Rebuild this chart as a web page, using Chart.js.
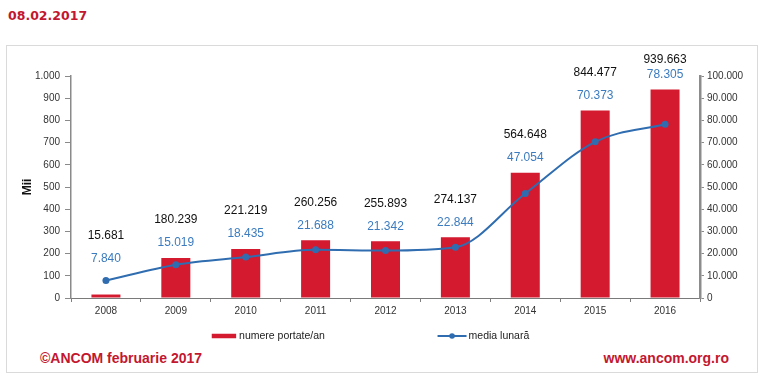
<!DOCTYPE html>
<html><head><meta charset="utf-8">
<script src="https://cdn.jsdelivr.net/npm/chart.js@4.4.1/dist/chart.umd.min.js"></script>
<style>
html,body{margin:0;padding:0;background:#fff;width:765px;height:382px;overflow:hidden;}
#frame{position:absolute;left:6px;top:45px;width:752px;height:328px;border:1px solid #dadada;box-sizing:border-box;}
#date{position:absolute;left:8px;top:8px;font:bold 12.5px/15px 'DejaVu Sans',Verdana,sans-serif;color:#c3172f;}
.foot{position:absolute;top:350px;font:bold 14px/16px 'Liberation Sans',Arial,sans-serif;color:#c3172f;white-space:nowrap;}
#wrap{position:absolute;left:0;top:0;width:765px;height:382px;}
</style></head>
<body>
<div id="frame"></div>
<div id="date">08.02.2017</div>
<div class="foot" style="left:40px">©ANCOM februarie 2017</div>
<div class="foot" style="right:36px">www.ancom.org.ro</div>
<div id="wrap"><canvas id="c"></canvas></div>
<script>
const years = ['2008','2009','2010','2011','2012','2013','2014','2015','2016'];
const portate = [15681, 180239, 221219, 260256, 255893, 274137, 564648, 844477, 939663];
const mediaLunara = [7840, 15019, 18435, 21688, 21342, 22844, 47054, 70373, 78305];
const seriesNames = ['numere portate/an', 'media lunară'];
const axisTitle = 'Mii';

const RED = '#d31a2f', BLUE = '#2f6db0', BLUE_TXT = '#3b7bbf';
const FONT = "'Liberation Sans', Arial, sans-serif";
Chart.defaults.font.family = FONT;

function fmt(n){ return String(Math.round(n)).replace(/\B(?=(\d{3})+(?!\d))/g, '.'); }

const labelPlugin = {
  id: 'valueLabels',
  afterDatasetsDraw(chart){
    const ctx = chart.ctx;
    const barMeta = chart.getDatasetMeta(1), lineMeta = chart.getDatasetMeta(0);
    const top = chart.chartArea.top;
    ctx.save();
    ctx.font = '13px ' + FONT;
    ctx.textAlign = 'center';
    ctx.textBaseline = 'middle';
    for (let i = 0; i < years.length; i++) {
      const bar = barMeta.data[i], pt = lineMeta.data[i];
      const by = Math.min(bar.y - 15, pt.y - 22);
      const ky = Math.max(by - 23, top - 16.5);
      const put = (txt, x, y, col) => {
        ctx.save(); ctx.translate(x, y); ctx.scale(0.92, 1);
        ctx.fillStyle = col; ctx.fillText(txt, 0, 0); ctx.restore();
      };
      put(fmt(mediaLunara[i]), pt.x, by, BLUE_TXT);
      put(fmt(portate[i]), bar.x, ky, '#111');
    }
    ctx.restore();
  }
};

const legendPlugin = {
  id: 'customLegend',
  afterDraw(chart){
    const ctx = chart.ctx, ca = chart.chartArea;
    ctx.save();
    ctx.font = '10.5px ' + FONT;
    const t1 = chart.data.datasets[1].label, t2 = chart.data.datasets[0].label;
    const w1 = 24 + 3 + ctx.measureText(t1).width;
    const w2 = 29 + 2 + ctx.measureText(t2).width;
    const gap = 113;
    const start = (ca.left + ca.right) / 2 - 15 - (w1 + gap + w2) / 2;
    const y = ca.bottom + 38;
    ctx.fillStyle = RED;
    ctx.fillRect(start, y - 2.25, 24.4, 4.5);
    ctx.fillStyle = '#222';
    ctx.textBaseline = 'middle';
    ctx.textAlign = 'left';
    ctx.fillText(t1, start + 27.3, y);
    const x2 = start + w1 + gap;
    ctx.strokeStyle = BLUE; ctx.lineWidth = 2;
    ctx.beginPath(); ctx.moveTo(x2, y); ctx.lineTo(x2 + 29, y); ctx.stroke();
    ctx.fillStyle = BLUE;
    ctx.beginPath(); ctx.arc(x2 + 14.5, y, 2.8, 0, Math.PI * 2); ctx.fill();
    ctx.fillStyle = '#222';
    ctx.fillText(t2, x2 + 31, y);
    ctx.restore();
  }
};

new Chart(document.getElementById('c'), {
  data: {
    labels: years,
    datasets: [
      {
        type: 'line', label: seriesNames[1], data: mediaLunara, yAxisID: 'y1',
        borderColor: BLUE, backgroundColor: BLUE, borderWidth: 2,
        pointRadius: 3.5, pointBackgroundColor: BLUE, pointBorderWidth: 0,
        cubicInterpolationMode: 'monotone', order: 0
      },
      {
        type: 'bar', label: seriesNames[0], data: portate.map(v => v / 1000), yAxisID: 'y',
        backgroundColor: RED, borderWidth: 0,
        categoryPercentage: 1, barPercentage: 0.415, order: 1
      }
    ]
  },
  options: {
    responsive: true, maintainAspectRatio: false, animation: false,
    layout: { padding: { top: 76, right: 0, bottom: 64, left: 0 } },
    plugins: { legend: { display: false }, tooltip: { enabled: false } },
    scales: {
      x: {
        offset: true,
        grid: { display: true, drawOnChartArea: false, drawTicks: true, tickLength: 4, color: '#808080', offset: true },
        border: { display: true, color: '#7a7a7a', width: 1 },
        ticks: { color: '#333', font: { size: 10 }, padding: 3 },
        afterFit(s){ s.height = 20; }
      },
      y: {
        position: 'left', min: 0, max: 1000,
        ticks: { stepSize: 100, color: '#333', font: { size: 10 }, padding: 5, callback: v => fmt(v) },
        grid: { display: true, drawOnChartArea: false, drawTicks: true, tickLength: 6, color: '#8a8a8a' },
        border: { display: true, color: '#8a8a8a', width: 1.5 },
        title: { display: true, text: axisTitle, color: '#111', font: { size: 12, weight: 'bold' }, padding: { top: 20, bottom: 0 } },
        afterFit(s){ s.width = 71; }
      },
      y1: {
        position: 'right', min: 0, max: 100000,
        ticks: { stepSize: 10000, color: '#333', font: { size: 10 }, padding: 3, callback: v => fmt(v) },
        grid: { display: true, drawOnChartArea: false, drawTicks: true, tickLength: 4, color: '#8a8a8a' },
        border: { display: true, color: '#8c8c8c', width: 2.5 },
        afterFit(s){ s.width = 65; }
      }
    }
  },
  plugins: [labelPlugin, legendPlugin]
});
</script>
</body></html>
